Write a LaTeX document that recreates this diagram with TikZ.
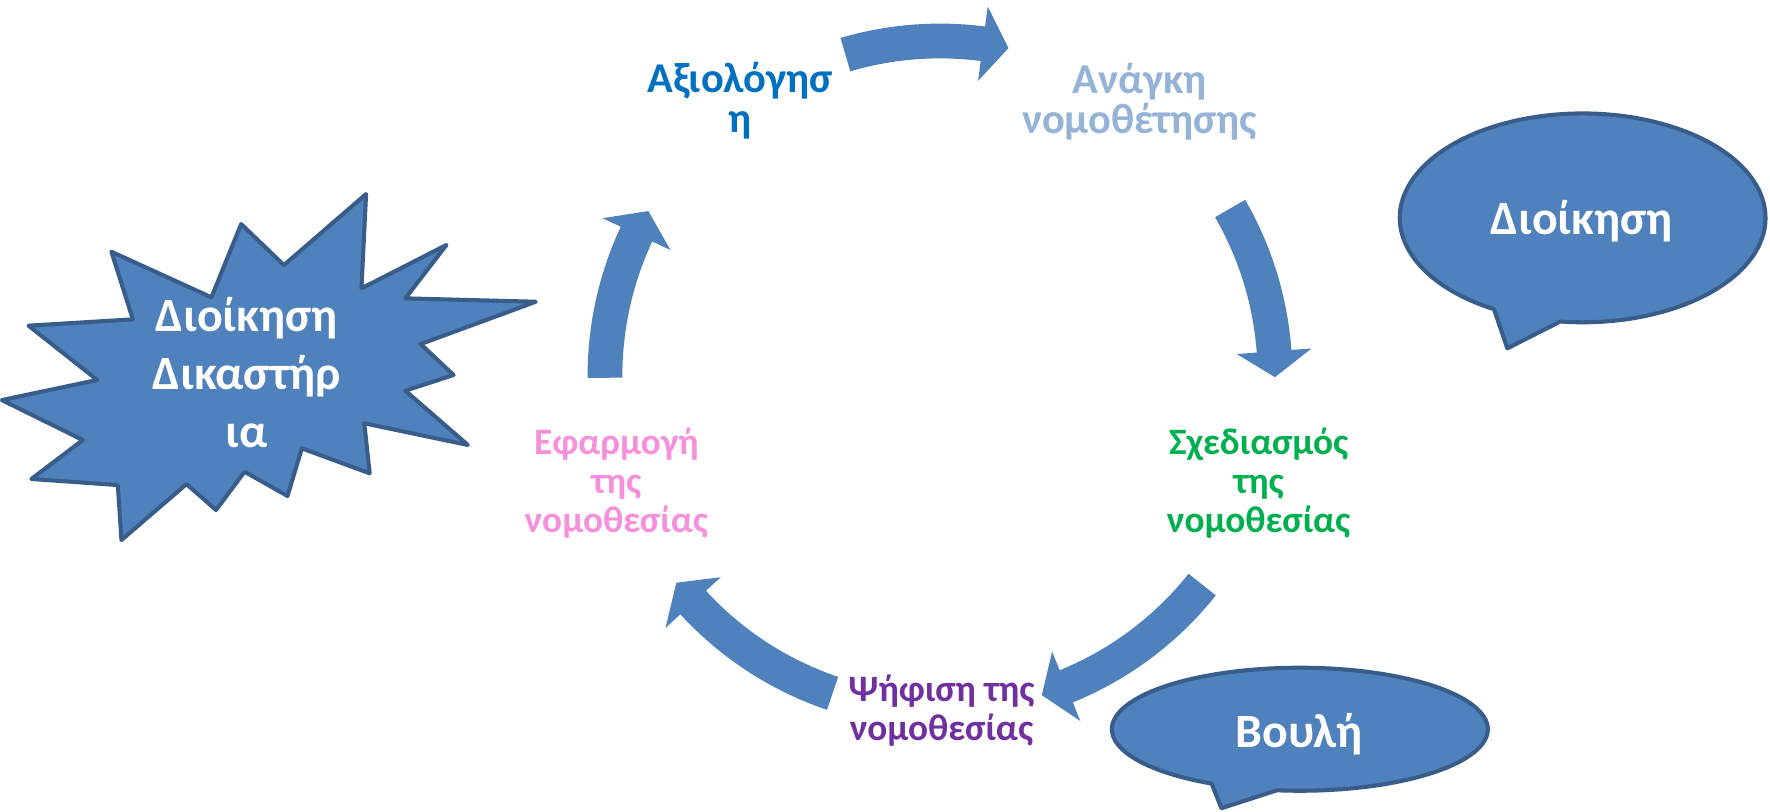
\documentclass[tikz,border=0pt]{standalone}
\usepackage{fontspec}
\setmainfont{Carlito}
\definecolor{shapefill}{HTML}{4F81BD}
\definecolor{shapeline}{HTML}{385D8A}
\definecolor{txtblue}{HTML}{0070C0}
\definecolor{txtlight}{HTML}{95B3D7}
\definecolor{txtgreen}{HTML}{00B050}
\definecolor{txtpurple}{HTML}{7030A0}
\definecolor{txtpink}{HTML}{F690DA}
\def\cycCX{832.7}
\def\cycCY{333.1}
\def\cycR{296.8}
\def\cycW{15.4}
\def\cycHW{33.2}
\newcommand\cycarrow[2]{%
  \pgfmathsetmacro\cycHB{#2-4.44}%
  \fill[cyclearrow] plot[domain=#1:\cycHB, samples=30] ({\cycCX+(\cycR+\cycW)*sin(\x)},{\cycCY-(\cycR+\cycW)*cos(\x)})
    -- ({\cycCX+(\cycR+\cycHW)*sin(\cycHB)},{\cycCY-(\cycR+\cycHW)*cos(\cycHB)})
    -- ({\cycCX+\cycR*sin(#2)},{\cycCY-\cycR*cos(#2)})
    -- ({\cycCX+(\cycR-\cycHW)*sin(\cycHB)},{\cycCY-(\cycR-\cycHW)*cos(\cycHB)})
    -- plot[domain=\cycHB:#1, samples=30] ({\cycCX+(\cycR-\cycW)*sin(\x)},{\cycCY-(\cycR-\cycW)*cos(\x)})
    -- cycle;}
\begin{document}
\begin{tikzpicture}[x=0.5pt,y=-0.5pt,
  stagetext/.style={font=\bfseries\fontsize{16.5pt}{17.15pt}\selectfont, align=center, inner sep=0pt},
  toptext/.style={font=\bfseries\fontsize{18.8pt}{17.7pt}\selectfont, align=center, inner sep=0pt},
  shapetext/.style={font=\bfseries\fontsize{21.2pt}{25.5pt}\selectfont, align=center, inner sep=0pt, text=white},
  blob/.style={fill=shapefill, draw=shapeline, line width=1.8pt, line join=round},
  cyclearrow/.style={fill=shapefill}]
\useasboundingbox (0,0) rectangle (1568,718.5);
\fill[white] (0,0) rectangle (1568,718.5);

% cycle arrows
\cycarrow{-16.4}{11.8}
\cycarrow{60}{90.2}
\cycarrow{128.5}{162.3}
\cycarrow{198.7}{231.9}
\cycarrow{269.7}{299.5}

% stage labels
\node[toptext, text=txtblue] (eval) at (655.5,89.6) {Αξιολόγησ\\η};
\node[toptext, text=txtlight] (need) at (1009.5,90.4) {Ανάγκη\\νομοθέτησης};
\node[stagetext, text=txtgreen] (design) at (1115,428) {Σχεδιασμός\\της\\νομοθεσίας};
\node[stagetext, text=txtpurple] (vote) at (834,629.6) {Ψήφιση της\\νομοθεσίας};
\node[stagetext, text=txtpink] (apply) at (546,428) {Εφαρμογή\\της\\νομοθεσίας};

% explosion star
\draw[blob] (324.3,171.9) -- (320.2,255.4) -- (395.5,217) -- (359.1,264.3)
  -- (474.6,267.3) -- (372.7,304.8) -- (401.8,332.2) -- (359.1,346.1)
  -- (414.5,394.2) -- (322.7,375) -- (327.5,419.3) -- (267.4,397.2)
  -- (254.7,439.4) -- (216.7,417.9) -- (191.4,451.8) -- (165.2,428.8)
  -- (107.6,478.4) -- (104.4,429.7) -- (27.8,424.3) -- (73.4,389.8)
  -- (1.6,354.4) -- (86.1,336.6) -- (25.3,288.5) -- (117.7,282.9)
  -- (98.7,223) -- (187.3,263.4) -- (213.6,198.5) -- (251.5,234.8) -- cycle;
\node[shapetext] (court) at (218.5,330) {Διοίκηση\\Δικαστήρ\\ια};

% speech callouts
\draw[blob] (1402,193) ++(119:162 and 92.5)
  arc[start angle=119, end angle=457, x radius=162, y radius=92.5]
  -- (1335.3,308.6) -- cycle;
\node[shapetext] (admin) at (1401.2,195.5) {Διοίκηση};

\draw[blob] (1151.5,646) ++(118:166.5 and 54.5)
  arc[start angle=118, end angle=457, x radius=166.5, y radius=54.5]
  -- (1082,716) -- cycle;
\node[shapetext] (parl) at (1150.8,650.8) {Βουλή};
\end{tikzpicture}
\end{document}
